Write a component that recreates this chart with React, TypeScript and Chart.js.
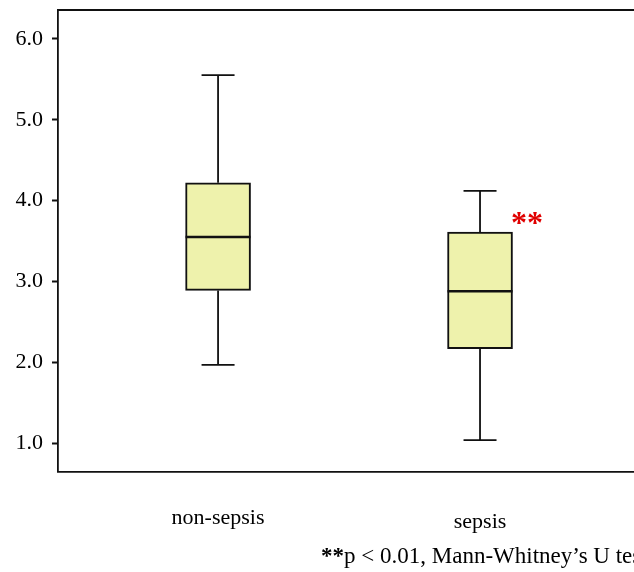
import React, { useEffect, useRef } from "react";
import { Chart, registerables } from "chart.js";

Chart.register(...registerables);

const categories = ["non-sepsis", "sepsis"];
const whiskerLow = [1.97, 1.04];
const q1 = [2.89, 2.17];
const median = [3.55, 2.88];
const q3 = [4.22, 3.61];
const whiskerHigh = [5.55, 4.12];
const yTicks = [1, 2, 3, 4, 5, 6];
const significance = ["", "**"];
const significanceY = [0, 3.79];
const footnoteBold = "**";
const footnoteText = "p < 0.01, Mann-Whitney\u2019s U test";

const SERIF = "'Liberation Serif', 'Times New Roman', serif";

const boxPlugin = {
  id: "boxExtras",
  afterDatasetsDraw(chart: any) {
    const { ctx, chartArea, scales } = chart;
    const xs = scales.x;
    const ys = scales.y;
    ctx.save();
    // frame top & right
    ctx.strokeStyle = "#111";
    ctx.lineWidth = 1.8;
    ctx.beginPath();
    ctx.moveTo(chartArea.left, chartArea.top);
    ctx.lineTo(chartArea.right, chartArea.top);
    ctx.lineTo(chartArea.right, chartArea.bottom);
    ctx.stroke();

    categories.forEach((cat, i) => {
      const px = xs.getPixelForValue(i + 1);
      const capHalf = 16.5;
      const boxHalf = 32.5;
      ctx.strokeStyle = "#111";
      ctx.lineWidth = 1.8;
      ctx.beginPath();
      ctx.moveTo(px, ys.getPixelForValue(q3[i]));
      ctx.lineTo(px, ys.getPixelForValue(whiskerHigh[i]));
      ctx.moveTo(px, ys.getPixelForValue(q1[i]));
      ctx.lineTo(px, ys.getPixelForValue(whiskerLow[i]));
      ctx.moveTo(px - capHalf, ys.getPixelForValue(whiskerHigh[i]));
      ctx.lineTo(px + capHalf, ys.getPixelForValue(whiskerHigh[i]));
      ctx.moveTo(px - capHalf, ys.getPixelForValue(whiskerLow[i]));
      ctx.lineTo(px + capHalf, ys.getPixelForValue(whiskerLow[i]));
      ctx.stroke();
      ctx.lineWidth = 2.6;
      ctx.beginPath();
      ctx.moveTo(px - boxHalf, ys.getPixelForValue(median[i]));
      ctx.lineTo(px + boxHalf, ys.getPixelForValue(median[i]));
      ctx.stroke();

      // category label
      ctx.fillStyle = "#000";
      ctx.font = `22px ${SERIF}`;
      ctx.textAlign = "center";
      ctx.textBaseline = "middle";
      ctx.fillText(cat, px, chartArea.bottom + (i === 0 ? 47 : 51));

      if (significance[i]) {
        ctx.fillStyle = "#e00000";
        ctx.font = `bold 32px ${SERIF}`;
        ctx.textAlign = "center";
        ctx.textBaseline = "middle";
        ctx.fillText(significance[i], px + 47, ys.getPixelForValue(significanceY[i]) + 7);
      }
    });

    // footnote
    ctx.fillStyle = "#000";
    ctx.textAlign = "left";
    ctx.textBaseline = "middle";
    ctx.font = `bold 23px ${SERIF}`;
    const fx = 321;
    const fy = 557;
    ctx.fillText(footnoteBold, fx, fy);
    const w = ctx.measureText(footnoteBold).width;
    ctx.font = `23px ${SERIF}`;
    ctx.fillText(footnoteText, fx + w, fy);
    ctx.restore();
  },
};

export default function App() {
  const ref = useRef<HTMLCanvasElement | null>(null);
  useEffect(() => {
    if (!ref.current) return;
    const chart = new Chart(ref.current, {
      type: "bar",
      data: {
        datasets: [
          {
            data: categories.map((_, i) => ({ x: i + 1, y: [q1[i], q3[i]] })) as any,
            backgroundColor: "#eef2ac",
            borderColor: "#111",
            borderWidth: 2,
            borderSkipped: false,
            barThickness: 65,
          },
        ],
      },
      options: {
        responsive: false,
        animation: false,
        devicePixelRatio: 1,
        layout: { padding: { top: 10, right: 40, left: 0, bottom: 0 } },
        plugins: { legend: { display: false }, tooltip: { enabled: false } },
        scales: {
          x: {
            type: "linear",
            offset: false,
            min: 0.389,
            max: 2.687,
            grid: { display: false, offset: false },
            ticks: { display: false },
            border: { display: true, color: "#111", width: 1.8 },
            afterFit(axis: any) {
              axis.height = 100.3;
              axis.paddingLeft = 0;
              axis.paddingRight = 0;
            },
          },
          y: {
            type: "linear",
            min: 0.65,
            max: 6.356,
            afterBuildTicks(axis: any) {
              axis.ticks = yTicks.map((v) => ({ value: v }));
            },
            afterFit(axis: any) {
              axis.width = 58;
              axis.paddingTop = 0;
              axis.paddingBottom = 0;
            },
            grid: {
              drawOnChartArea: false,
              drawTicks: true,
              tickLength: 6,
              tickWidth: 2,
              color: "#111",
            },
            border: { display: true, color: "#111", width: 1.8 },
            ticks: {
              padding: 9,
              color: "#000",
              font: { family: SERIF, size: 22 },
              callback: (v: any) => Number(v).toFixed(1),
            },
          },
        },
      },
      plugins: [boxPlugin],
    } as any);
    return () => chart.destroy();
  }, []);
  return (
    <div
      style={{
        position: "fixed",
        left: 0,
        top: 0,
        width: 634,
        height: 572,
        overflow: "hidden",
        background: "#fff",
      }}
    >
      <canvas ref={ref} width={700} height={572} style={{ width: 700, height: 572 }} />
    </div>
  );
}
